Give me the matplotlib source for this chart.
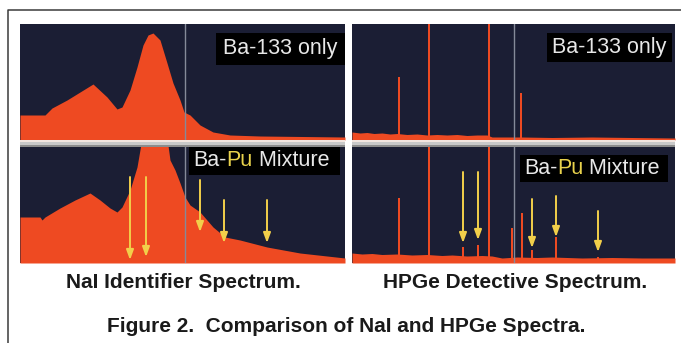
import matplotlib
matplotlib.use("Agg")
import matplotlib.pyplot as plt
from matplotlib.patches import Rectangle
from matplotlib.lines import Line2D

plt.rcParams['font.family'] = ['Liberation Sans', 'DejaVu Sans']

W, H = 681, 343

# ---------------- data (channel, counts; arbitrary units) ----------------
# NaI, Ba-133 only
nai_ba_ch = [0, 25, 32, 47, 60, 73, 87, 97, 102, 110, 117, 123, 128, 133, 140, 147, 153, 160, 164, 170, 180, 193, 210, 240, 325]
nai_ba_ct = [25, 25, 32, 40, 48, 56, 43, 31, 33, 50, 73, 95, 105, 107, 100, 77, 57, 40, 28, 25, 15, 8, 5, 4, 3]
# NaI, Ba-Pu mixture
nai_mix_ch = [0, 20, 22, 25, 40, 55, 70, 80, 90, 97, 102, 110, 117, 122, 147, 150, 155, 160, 165, 170, 180, 193, 205, 220, 247, 280, 325]
nai_mix_ct = [46, 46, 43, 46, 55, 63, 70, 63, 55, 51, 56, 73, 96, 125, 125, 103, 93, 80, 66, 58, 51, 36, 26, 23, 16, 10, 5]
nai_arrow_x = [110, 126, 180, 204, 247]
nai_arrow_top = [86, 86, 83, 63, 63]
nai_arrow_tip = [3, 6, 31, 20, 20]

# HPGe, Ba-133 only
ge_ba_base_ch = [0, 8, 15, 22, 30, 38, 45, 55, 65, 75, 85, 95, 105, 115, 125, 135, 140, 150, 170, 200, 240, 280, 323]
ge_ba_base_ct = [8, 7, 7.5, 6.5, 7, 6, 6.5, 5.5, 6, 5, 5.5, 5, 5.5, 4.5, 5, 5, 3, 3, 3, 2.5, 3, 2.5, 2]
ge_ba_peak_ch = [47, 77, 137, 169]
ge_ba_peak_ct = [63, 130, 130, 47]
# HPGe, Ba-Pu mixture
ge_mix_base_ch = [0, 10, 20, 30, 45, 60, 75, 90, 100, 115, 130, 140, 150, 165, 185, 200, 230, 260, 290, 323]
ge_mix_base_ct = [10, 9, 9.5, 8.5, 9, 8, 8.5, 7.5, 8, 7, 7.5, 7, 5, 6, 5.5, 6, 5, 5.5, 5, 5]
ge_mix_peak_ch = [47, 77, 111, 126, 137, 160, 170, 180, 204, 246]
ge_mix_peak_ct = [65, 130, 16, 18, 130, 35, 50, 13, 26, 6]
ge_arrow_x = [111, 126, 180, 204, 246]
ge_arrow_top = [91, 91, 64, 67, 52]
ge_arrow_tip = [20, 23, 15, 26, 11]

nai_marker = 165
ge_marker = 162

captions = ["NaI Identifier Spectrum.", "HPGe Detective Spectrum."]
figure_title = "Figure 2.  Comparison of NaI and HPGe Spectra."

# ---------------- styles ----------------
NAVY = '#1b1e34'
ORANGE = '#ee4a22'
GRAYLINE = '#858a99'
YELLOW = '#f2cf4a'
LABEL_TXT = '#e8e8e8'
PU_COL = '#e9d24c'
LABEL_FS = 15.5
CAP_FS = 15

fig = plt.figure(figsize=(W / 100, H / 100), dpi=100)
fig.patch.set_facecolor('white')


def px_axes(x0, y0, x1, y1):
    return fig.add_axes([x0 / W, 1 - y1 / H, (x1 - x0) / W, (y1 - y0) / H])


def px_rect(x0, y0, x1, y1, color):
    fig.add_artist(Rectangle((x0 / W, 1 - y1 / H), (x1 - x0) / W, (y1 - y0) / H,
                             transform=fig.transFigure, facecolor=color,
                             edgecolor='none', zorder=5))


def setup(ax, xmax):
    ax.set_facecolor(NAVY)
    ax.set_xlim(0, xmax)
    ax.set_ylim(0, 116)
    ax.set_xticks([])
    ax.set_yticks([])
    for s in ax.spines.values():
        s.set_visible(False)


def label(ax, box, parts):
    x0, y0, x1, y1 = box
    ax.add_patch(Rectangle((x0, y0), x1 - x0, y1 - y0, transform=ax.transAxes,
                           facecolor='black', edgecolor='none', zorder=6))
    xc = (x0 + x1) / 2
    yc = (y0 + y1) / 2
    if len(parts) == 1:
        ax.text(xc, yc, parts[0][0], color=parts[0][1], fontsize=LABEL_FS,
                ha='center', va='center', transform=ax.transAxes, zorder=7)
    else:
        t = ax.text(x0 + 0.012, yc, parts[0][0], color=parts[0][1], fontsize=LABEL_FS,
                    ha='left', va='center', transform=ax.transAxes, zorder=7)
        for txt, col in parts[1:]:
            t = ax.annotate(txt, xy=(1, 0), xycoords=t, color=col, fontsize=LABEL_FS,
                            ha='left', va='bottom', zorder=7)


def arrows(ax, xs, tops, tips):
    for x, t, p in zip(xs, tops, tips):
        ax.annotate('', xy=(x, p), xytext=(x, t),
                    arrowprops=dict(arrowstyle='-|>,head_length=0.6,head_width=0.22',
                                    color=YELLOW, lw=1.4, shrinkA=0, shrinkB=0),
                    zorder=8)


def spectrum_peaks(ax, chs, cts):
    ax.bar(chs, cts, width=2.2, color=ORANGE, lw=0)


# NaI top
ax1 = px_axes(20, 24, 345, 140)
setup(ax1, 325)
ax1.fill_between(nai_ba_ch, 0, nai_ba_ct, color=ORANGE, lw=0)
ax1.axvline(nai_marker, color=GRAYLINE, lw=1)
label(ax1, (0.603, 0.647, 1.0, 0.922), [("Ba-133 only", LABEL_TXT)])

# NaI bottom
ax2 = px_axes(20, 147, 345, 263)
setup(ax2, 325)
ax2.fill_between(nai_mix_ch, 0, nai_mix_ct, color=ORANGE, lw=0)
ax2.axvline(nai_marker, color=GRAYLINE, lw=1)
label(ax2, (0.52, 0.759, 0.985, 1.0), [("Ba-", LABEL_TXT), ("Pu", PU_COL), (" Mixture", LABEL_TXT)])
arrows(ax2, nai_arrow_x, nai_arrow_top, nai_arrow_tip)

# HPGe top
ax3 = px_axes(352, 24, 675, 140)
setup(ax3, 323)
ax3.fill_between(ge_ba_base_ch, 0, ge_ba_base_ct, color=ORANGE, lw=0)
spectrum_peaks(ax3, ge_ba_peak_ch, ge_ba_peak_ct)
ax3.axvline(ge_marker, color=GRAYLINE, lw=1)
label(ax3, (0.604, 0.672, 0.991, 0.922), [("Ba-133 only", LABEL_TXT)])

# HPGe bottom
ax4 = px_axes(352, 147, 675, 263)
setup(ax4, 323)
ax4.fill_between(ge_mix_base_ch, 0, ge_mix_base_ct, color=ORANGE, lw=0)
spectrum_peaks(ax4, ge_mix_peak_ch, ge_mix_peak_ct)
ax4.axvline(ge_marker, color=GRAYLINE, lw=1)
label(ax4, (0.52, 0.698, 0.978, 0.931), [("Ba-", LABEL_TXT), ("Pu", PU_COL), (" Mixture", LABEL_TXT)])
arrows(ax4, ge_arrow_x, ge_arrow_top, ge_arrow_tip)

# separator bands between the upper and lower panels
for x0, x1 in [(20, 345), (352, 675)]:
    px_rect(x0, 140, x1, 142, '#f3e6e0')
    px_rect(x0, 142, x1, 144.5, '#c9c9c9')
    px_rect(x0, 144.5, x1, 147, '#8c8c8c')

# outer frame (left and top edges)
fig.add_artist(Line2D([7.5 / W, 7.5 / W, 1.0], [0.0, 1 - 9.5 / H, 1 - 9.5 / H],
                      transform=fig.transFigure, color='#3a3a3a', lw=1.1))

# captions
fig.text(183 / W, 1 - 282 / H, captions[0], ha='center', va='center',
         fontsize=CAP_FS, fontweight='bold', color='#1a1a1a')
fig.text(515 / W, 1 - 282 / H, captions[1], ha='center', va='center',
         fontsize=CAP_FS, fontweight='bold', color='#1a1a1a')
fig.text(346 / W, 1 - 327 / H, figure_title, ha='center', va='center',
         fontsize=CAP_FS, fontweight='bold', color='#1a1a1a')

fig.savefig('out.png', dpi=100, facecolor='white')
